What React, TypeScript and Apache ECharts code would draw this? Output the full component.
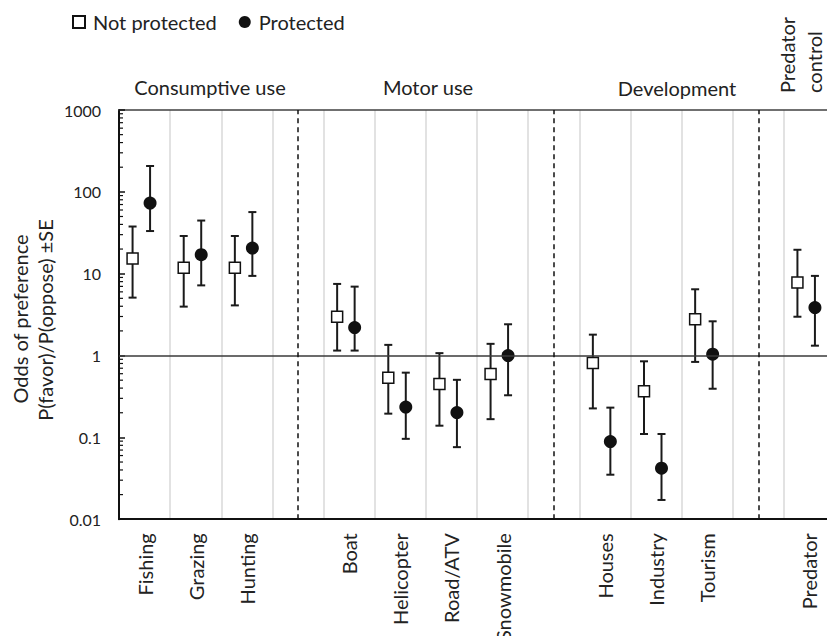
import React, { useEffect, useRef } from "react";
import * as echarts from "echarts";

const categories = ["Fishing", "Grazing", "Hunting", "gap1", "Boat", "Helicopter", "Road/ATV", "Snowmobile", "gap2", "Houses", "Industry", "Tourism", "gap3", "Predator"];

const notProtected = [15.3, 11.8, 11.8, null, 2.98, 0.537, 0.448, 0.595, null, 0.81, 0.365, 2.77, null, 7.83];
const notProtectedLow = [5.1, 3.96, 4.1, null, 1.15, 0.195, 0.139, 0.167, null, 0.226, 0.11, 0.836, null, 2.98];
const notProtectedHigh = [37.7, 28.9, 28.9, null, 7.5, 1.35, 1.07, 1.39, null, 1.8, 0.85, 6.45, null, 19.6];

const protectedVals = [73, 17.1, 20.6, null, 2.2, 0.235, 0.201, 1.0, null, 0.089, 0.042, 1.04, null, 3.85];
const protectedLow = [33.2, 7.2, 9.4, null, 1.15, 0.096, 0.076, 0.327, null, 0.035, 0.0172, 0.393, null, 1.32];
const protectedHigh = [207, 44.6, 56.6, null, 6.95, 0.618, 0.505, 2.41, null, 0.231, 0.11, 2.62, null, 9.4];

const yTickLabels = ["0.01", "0.1", "1", "10", "100", "1000"];
const minorTickValues = [
  0.02, 0.03, 0.04, 0.05, 0.06, 0.07, 0.08, 0.09,
  0.2, 0.3, 0.4, 0.5, 0.6, 0.7, 0.8, 0.9,
  2, 3, 4, 5, 6, 7, 8, 9,
  20, 30, 40, 50, 60, 70, 80, 90,
  200, 300, 400, 500, 600, 700, 800, 900,
];

const groupLabels = ["Consumptive use", "Motor use", "Development"];
const FONT = "Lato";
const FS = 20;
const TXT = "#222";

function errorSeries(name: string, low: (number | null)[], high: (number | null)[], dx: number) {
  const data: number[][] = [];
  low.forEach((l, i) => {
    if (l != null && high[i] != null) data.push([i, l, high[i] as number]);
  });
  return {
    type: "custom",
    name: name + " SE",
    z: 2,
    silent: true,
    encode: { x: 0, y: [1, 2] },
    data,
    renderItem: (params: any, api: any) => {
      const i = api.value(0);
      const pLo = api.coord([i, api.value(1)]);
      const pHi = api.coord([i, api.value(2)]);
      const cx = pLo[0] + dx;
      const st = { stroke: "#1a1a1a", lineWidth: 2 };
      return {
        type: "group",
        children: [
          { type: "line", shape: { x1: cx, y1: pHi[1], x2: cx, y2: pLo[1] }, style: st },
          { type: "line", shape: { x1: cx - 4, y1: pHi[1], x2: cx + 4, y2: pHi[1] }, style: st },
          { type: "line", shape: { x1: cx - 4, y1: pLo[1], x2: cx + 4, y2: pLo[1] }, style: st },
        ],
      };
    },
  };
}

export default function App() {
  const ref = useRef<HTMLDivElement>(null);
  useEffect(() => {
    if (!ref.current) return;
    const chart = echarts.init(ref.current, null, { renderer: "svg" });
    const gapNames = categories.filter((c) => c.startsWith("gap"));
    const font = `${FS}px ${FONT}`;
    chart.setOption({
      animation: false,
      textStyle: { fontFamily: FONT },
      grid: { left: 119, top: 110, width: 720, height: 417, containLabel: false },
      legend: {
        left: 72,
        top: 12,
        padding: 0,
        itemWidth: 12,
        itemHeight: 12,
        itemGap: 22,
        data: ["Not protected", "Protected"],
        textStyle: { fontSize: FS, color: TXT, fontFamily: FONT, padding: [0, 0, 0, 3] },
      },
      xAxis: [
        {
          type: "category",
          data: categories,
          boundaryGap: true,
          axisLine: { show: true, onZero: false, lineStyle: { color: "#111", width: 2 } },
          axisTick: { show: false },
          splitLine: { show: true, interval: 0, lineStyle: { color: "#d9d9d9", width: 1.5 } },
          axisLabel: {
            interval: 0,
            rotate: 90,
            margin: 14,
            fontSize: FS,
            color: TXT,
            fontFamily: FONT,
            formatter: (v: string) => (v.startsWith("gap") ? "" : v),
          },
        },
        {
          type: "category",
          data: categories,
          position: "top",
          boundaryGap: true,
          axisLine: { show: true, onZero: false, lineStyle: { color: "#404040", width: 1.5 } },
          axisTick: { show: false },
          axisLabel: { show: false },
          splitLine: { show: false },
        },
      ],
      yAxis: {
        type: "log",
        logBase: 10,
        min: 0.01,
        max: 1000,
        axisLine: { show: true, lineStyle: { color: "#111", width: 2 } },
        axisTick: { show: true, inside: true, length: 6, lineStyle: { color: "#111", width: 1.5 } },
        splitLine: { show: false },
        axisLabel: {
          fontSize: 16,
          color: TXT,
          margin: 18,
          fontFamily: FONT,
          formatter: (v: number) => yTickLabels[Math.round(Math.log10(v)) + 2] ?? "",
        },
      },
      graphic: [
        { type: "text", x: 210, y: 87, style: { text: groupLabels[0], font, fill: TXT, align: "center", verticalAlign: "middle" } },
        { type: "text", x: 428, y: 87, style: { text: groupLabels[1], font, fill: TXT, align: "center", verticalAlign: "middle" } },
        { type: "text", x: 677, y: 88, style: { text: groupLabels[2], font, fill: TXT, align: "center", verticalAlign: "middle" } },
        { type: "text", x: 787, y: 93, rotation: Math.PI / 2, style: { text: "Predator", font, fill: TXT, align: "left", verticalAlign: "middle" } },
        { type: "text", x: 814, y: 93, rotation: Math.PI / 2, style: { text: "control", font, fill: TXT, align: "left", verticalAlign: "middle" } },
        { type: "text", x: 20, y: 319, rotation: Math.PI / 2, style: { text: "Odds of preference", font, fill: TXT, align: "center", verticalAlign: "middle" } },
        { type: "text", x: 45, y: 320, rotation: Math.PI / 2, style: { text: "P(favor)/P(oppose) ±SE", font, fill: TXT, align: "center", verticalAlign: "middle" } },
      ],
      series: [
        {
          type: "custom",
          name: "minor ticks",
          silent: true,
          z: 3,
          encode: { x: 0, y: 1 },
          data: minorTickValues.map((v) => [0, v]),
          renderItem: (params: any, api: any) => {
            const y = api.coord([0, api.value(1)])[1];
            const x0 = params.coordSys.x;
            return { type: "line", shape: { x1: x0, y1: y, x2: x0 + 4, y2: y }, style: { stroke: "#111", lineWidth: 1.2 } };
          },
        },
        errorSeries("Not protected", notProtectedLow, notProtectedHigh, -12),
        errorSeries("Protected", protectedLow, protectedHigh, 5.5),
        {
          type: "scatter",
          name: "Not protected",
          z: 4,
          symbol: "rect",
          symbolSize: 11,
          symbolOffset: [-12, 0],
          itemStyle: { color: "#fff", borderColor: "#111", borderWidth: 1.5, opacity: 1 },
          data: notProtected.map((v) => (v == null ? "-" : v)),
          markLine: {
            silent: true,
            symbol: "none",
            label: { show: false },
            data: [
              { yAxis: 1, lineStyle: { color: "#3a3a3a", width: 1.5, type: "solid" } },
              ...gapNames.map((g) => ({ xAxis: g, lineStyle: { color: "#111", width: 1.5, type: [5, 4] } })),
            ],
          },
        },
        {
          type: "scatter",
          name: "Protected",
          z: 4,
          symbol: "circle",
          symbolSize: 13,
          symbolOffset: [5.5, 0],
          itemStyle: { color: "#111", opacity: 1 },
          data: protectedVals.map((v) => (v == null ? "-" : v)),
        },
      ],
    });
    return () => chart.dispose();
  }, []);
  return <div ref={ref} style={{ width: 835, height: 644, margin: -8 }} />;
}
